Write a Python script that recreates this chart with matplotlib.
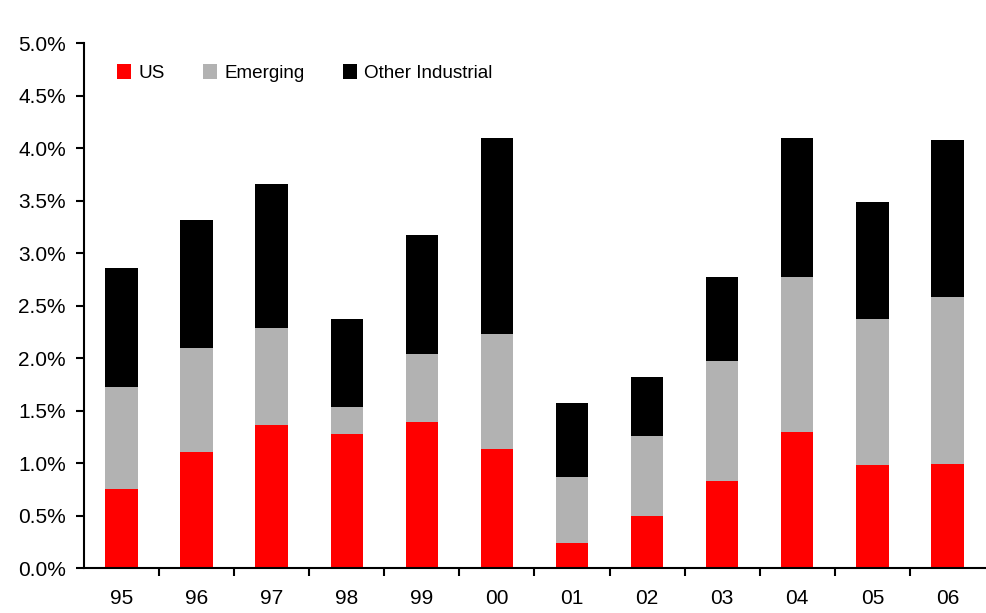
import numpy as np
import matplotlib.pyplot as plt
from matplotlib.ticker import FuncFormatter

years = ["95", "96", "97", "98", "99", "00", "01", "02", "03", "04", "05", "06"]
us = [0.75, 1.11, 1.36, 1.28, 1.39, 1.13, 0.24, 0.50, 0.83, 1.30, 0.98, 0.99]
emerging = [0.97, 0.99, 0.93, 0.25, 0.65, 1.10, 0.63, 0.76, 1.14, 1.47, 1.39, 1.59]
other_ind = [1.14, 1.22, 1.37, 0.84, 1.13, 1.87, 0.70, 0.56, 0.80, 1.33, 1.12, 1.50]

plt.rcParams['font.family'] = ['Liberation Sans', 'DejaVu Sans']

fig = plt.figure(figsize=(9.87, 6.13), dpi=100)
ax = fig.add_axes([0.085, 0.0734, 0.913, 0.856])

x = np.arange(len(years))
us = np.array(us)
emerging = np.array(emerging)
other_ind = np.array(other_ind)
w = 0.43

ax.bar(x, us, w, color="#FF0000", label="US")
ax.bar(x, emerging, w, bottom=us, color="#B2B2B2", label="Emerging")
ax.bar(x, other_ind, w, bottom=us + emerging, color="#000000", label="Other Industrial")

ax.set_xlim(-0.5, len(years) - 0.5)
ax.set_ylim(0, 5.0)
ax.set_yticks(np.arange(0, 5.01, 0.5))
ax.yaxis.set_major_formatter(FuncFormatter(lambda v, p: f"{v:.1f}%"))

# category labels centred, ticks at the boundaries
ax.set_xticks(np.arange(0.5, len(years) - 0.5, 1.0))
ax.set_xticklabels([])
ax.set_xticks(x, minor=True)
ax.set_xticklabels(years, minor=True)
ax.tick_params(axis="x", which="minor", length=0, pad=15, labelsize=15)
ax.tick_params(axis="x", which="major", length=6, width=1.5, direction="out")
ax.tick_params(axis="y", length=6, width=1.5, labelsize=15, pad=7)

for s in ["top", "right"]:
    ax.spines[s].set_visible(False)
for s in ["left", "bottom"]:
    ax.spines[s].set_linewidth(1.5)

ax.legend(loc="upper left", bbox_to_anchor=(0.018, 0.992), ncol=3, frameon=False,
          fontsize=13.6, handlelength=0.75, handleheight=0.8, handletextpad=0.4,
          columnspacing=2.0)

fig.savefig("out.png", dpi=100)
